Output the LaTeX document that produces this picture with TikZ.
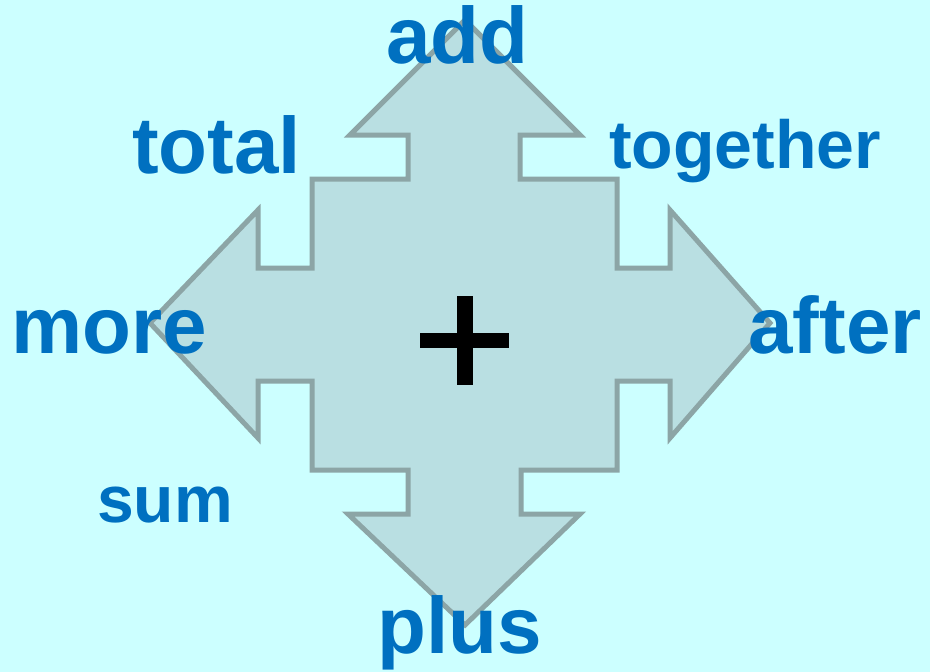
\documentclass[tikz,border=0pt]{standalone}
\usepackage{fontspec}
\setmainfont{Liberation Sans}
\definecolor{bgcol}{HTML}{CCFFFF}
\definecolor{arrowfill}{HTML}{B9DFE2}
\definecolor{arrowline}{HTML}{8CA5A6}
\definecolor{wordblue}{HTML}{0070C0}
\tikzset{
  word/.style={text=wordblue, font=\bfseries\fontsize{80}{82}\selectfont, inner sep=0pt, anchor=base},
  smallword/.style={word, font=\bfseries\fontsize{66}{68}\selectfont},
  crossarrow/.style={fill=arrowfill, draw=arrowline, line width=5pt, line join=miter}
}
\begin{document}
\begin{tikzpicture}[x=1pt,y=-1pt]
\fill[bgcol] (0,0) rectangle (930,672);
\useasboundingbox (0,0) rectangle (930,672);
\draw[crossarrow] (465,20) -- (580,135) -- (520,135) -- (520,179) -- (617,179) -- (617,268)
  -- (670,268) -- (670,210) -- (770,323) -- (670,438) -- (670,381) -- (617,381) -- (617,470)
  -- (521,470) -- (521,514) -- (580,514) -- (465,625) -- (348,514) -- (408,514) -- (408,470)
  -- (312,470) -- (312,381) -- (258,381) -- (258,438) -- (150,323) -- (258,210) -- (258,268)
  -- (312,268) -- (312,179) -- (408,179) -- (408,135) -- (350,135) -- cycle;
\fill[black] (420,333) rectangle (509,348);
\fill[black] (457,296) rectangle (473,385);
\node[word] (add) at (457.5,63) {add};
\node[word] (total) at (216.5,173) {total};
\node[smallword, font=\bfseries\fontsize{68}{70}\selectfont] (together) at (745,168) {together};
\node[word] (more) at (109.5,353) {more};
\node[word] (after) at (835,353) {after};
\node[smallword] (sum) at (165,522) {sum};
\node[word] (plus) at (459.5,653) {plus};
\end{tikzpicture}
\end{document}
